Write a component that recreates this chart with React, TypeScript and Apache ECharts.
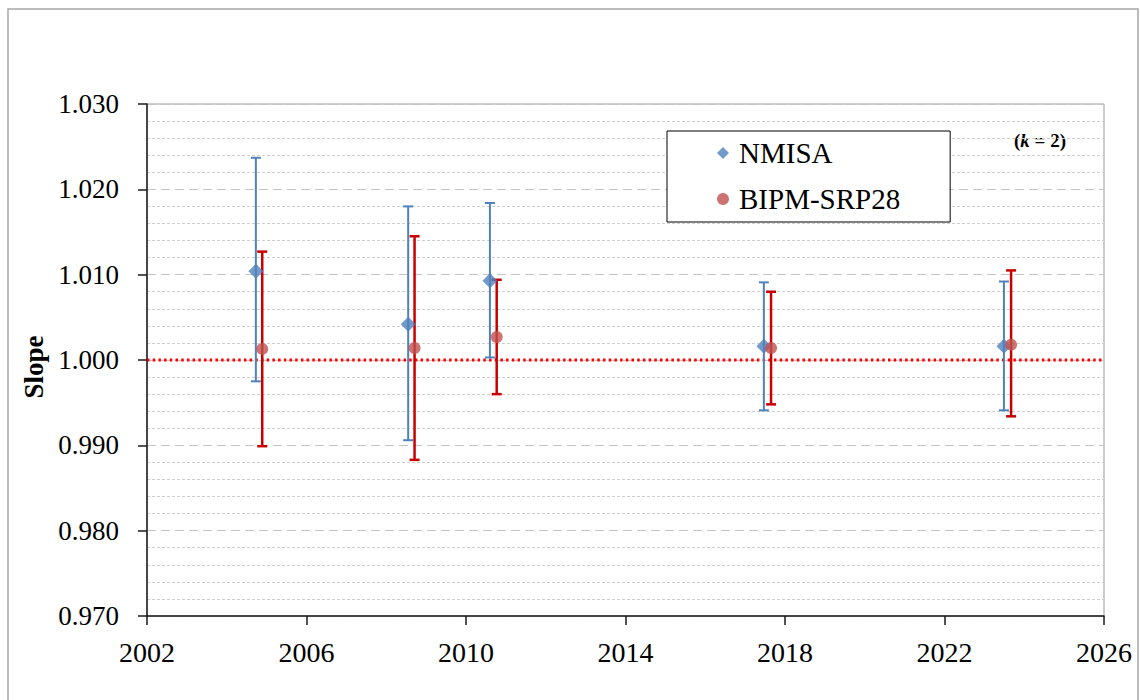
import React, { useEffect, useRef } from "react";
import * as echarts from "echarts";

const FONT = "'Liberation Serif', 'Times New Roman', serif";

const xTicks = [2002, 2006, 2010, 2014, 2018, 2022, 2026];
const yTicks = [0.97, 0.98, 0.99, 1.0, 1.01, 1.02, 1.03];

const nmisaYears = [2004.73, 2008.55, 2010.6, 2017.47, 2023.49];
const nmisaSlope = [1.0104, 1.0042, 1.0093, 1.0016, 1.0016];
const nmisaLow = [0.9975, 0.9906, 1.0003, 0.9941, 0.9941];
const nmisaHigh = [1.0237, 1.018, 1.0184, 1.0091, 1.0092];

const bipmYears = [2004.89, 2008.71, 2010.77, 2017.65, 2023.67];
const bipmSlope = [1.0013, 1.0014, 1.0027, 1.0014, 1.0018];
const bipmLow = [0.9899, 0.9883, 0.996, 0.9948, 0.9934];
const bipmHigh = [1.0127, 1.0145, 1.0094, 1.008, 1.0105];

const referenceSlope = 1.0;

const BLUE = "#4f81bd";
const RED_MARK = "#c0504d";
const RED_BAR = "#c80000";

function errRender(color: string, capHalf: number, width: number) {
  return (params: any, api: any) => {
    const x = api.value(0);
    const lo = api.value(1);
    const hi = api.value(2);
    const top = api.coord([x, hi]);
    const bot = api.coord([x, lo]);
    const style = { stroke: color, lineWidth: width };
    return {
      type: "group",
      children: [
        { type: "line", shape: { x1: top[0], y1: top[1], x2: bot[0], y2: bot[1] }, style },
        { type: "line", shape: { x1: top[0] - capHalf, y1: top[1], x2: top[0] + capHalf, y2: top[1] }, style },
        { type: "line", shape: { x1: bot[0] - capHalf, y1: bot[1], x2: bot[0] + capHalf, y2: bot[1] }, style },
      ],
    };
  };
}

export default function App() {
  const ref = useRef<HTMLDivElement>(null);
  useEffect(() => {
    if (!ref.current) return;
    const chart = echarts.init(ref.current, undefined, { renderer: "svg" });
    const nmisaErr = nmisaYears.map((x, i) => [x, nmisaLow[i], nmisaHigh[i]]);
    const bipmErr = bipmYears.map((x, i) => [x, bipmLow[i], bipmHigh[i]]);
    const nmisaPts = nmisaYears.map((x, i) => [x, nmisaSlope[i]]);
    const bipmPts = bipmYears.map((x, i) => [x, bipmSlope[i]]);
    chart.setOption({
      animation: false,
      backgroundColor: "#ffffff",
      grid: {
        left: 147,
        top: 104,
        width: 957,
        height: 512,
        show: true,
        borderColor: "#9a9a9a",
        borderWidth: 1,
        backgroundColor: "transparent",
      },
      xAxis: {
        type: "value",
        min: xTicks[0],
        max: xTicks[xTicks.length - 1],
        interval: 4,
        axisLine: { show: true, lineStyle: { color: "#1a1a1a", width: 1.5 } },
        axisTick: { show: true, length: 9, lineStyle: { color: "#1a1a1a", width: 1.5 } },
        axisLabel: { fontFamily: FONT, fontSize: 28, color: "#000", margin: 22, formatter: (v: number) => String(v) },
        splitLine: { show: false },
      },
      yAxis: {
        type: "value",
        min: yTicks[0],
        max: yTicks[yTicks.length - 1],
        interval: 0.01,
        name: "Slope",
        nameLocation: "middle",
        nameRotate: 90,
        nameGap: 100,
        nameTextStyle: { fontFamily: FONT, fontSize: 27, fontWeight: "bold", color: "#000", padding: [0, 14, 0, 0] },
        axisLine: { show: true, lineStyle: { color: "#1a1a1a", width: 1.5 } },
        axisTick: { show: true, length: 9, lineStyle: { color: "#1a1a1a", width: 1.5 } },
        axisLabel: {
          fontFamily: FONT,
          fontSize: 27,
          color: "#000",
          margin: 28,
          formatter: (v: number) => v.toFixed(3),
        },
        splitLine: { show: true, lineStyle: { color: "#c4c4c4", type: [9, 5], width: 1.2 } },
        minorTick: { show: false, splitNumber: 5 },
        minorSplitLine: { show: true, lineStyle: { color: "#cfcfcf", type: [3, 2], width: 1 } },
      },
      legend: {
        data: ["NMISA", "BIPM-SRP28"],
        orient: "vertical",
        left: 667,
        top: 131,
        padding: [7, 50, 8, 50],
        itemGap: 16,
        itemWidth: 12,
        itemHeight: 12,
        backgroundColor: "#ffffff",
        borderColor: "#000000",
        borderWidth: 1,
        borderRadius: 0,
        selectedMode: false,
        textStyle: { fontFamily: FONT, fontSize: 29, color: "#000", lineHeight: 30, padding: [0, 0, 0, 5] },
      },
      graphic: [
        {
          type: "rect",
          silent: true,
          shape: { x: 8, y: 9, width: 1130, height: 700 },
          style: { fill: "none", stroke: "#a6a6a6", lineWidth: 1.5 },
          z: -10,
        },
        {
          type: "text",
          x: 1014,
          y: 140,
          style: {
            text: "({k|k} = 2)",
            fontFamily: FONT,
            fontSize: 19,
            fontWeight: "bold",
            fill: "#000",
            verticalAlign: "middle",
            rich: { k: { fontFamily: FONT, fontSize: 19, fontStyle: "italic", fontWeight: "bold", fill: "#000" } },
          },
        },
      ],
      series: [
        {
          name: "NMISA error",
          type: "custom",
          renderItem: errRender(BLUE, 5, 2),
          encode: { x: 0, y: [1, 2] },
          data: nmisaErr,
          z: 3,
          silent: true,
        },
        {
          name: "BIPM-SRP28 error",
          type: "custom",
          renderItem: errRender(RED_BAR, 5, 2.5),
          encode: { x: 0, y: [1, 2] },
          data: bipmErr,
          z: 4,
          silent: true,
        },
        {
          name: "Reference",
          type: "line",
          data: [
            [xTicks[0], referenceSlope],
            [xTicks[xTicks.length - 1], referenceSlope],
          ],
          symbol: "none",
          lineStyle: { color: "#ff0000", width: 3, type: [2.5, 3.2] },
          z: 2,
          silent: true,
        },
        {
          name: "NMISA",
          type: "scatter",
          symbol: "diamond",
          symbolSize: 15,
          itemStyle: { color: BLUE },
          data: nmisaPts,
          z: 5,
        },
        {
          name: "BIPM-SRP28",
          type: "scatter",
          symbol: "circle",
          symbolSize: 12,
          itemStyle: { color: RED_MARK },
          data: bipmPts,
          z: 6,
        },
      ],
    });
    return () => chart.dispose();
  }, []);
  return (
    <div
      ref={ref}
      style={{ position: "absolute", left: 0, top: 0, width: 1140, height: 700, background: "#fff" }}
    />
  );
}
